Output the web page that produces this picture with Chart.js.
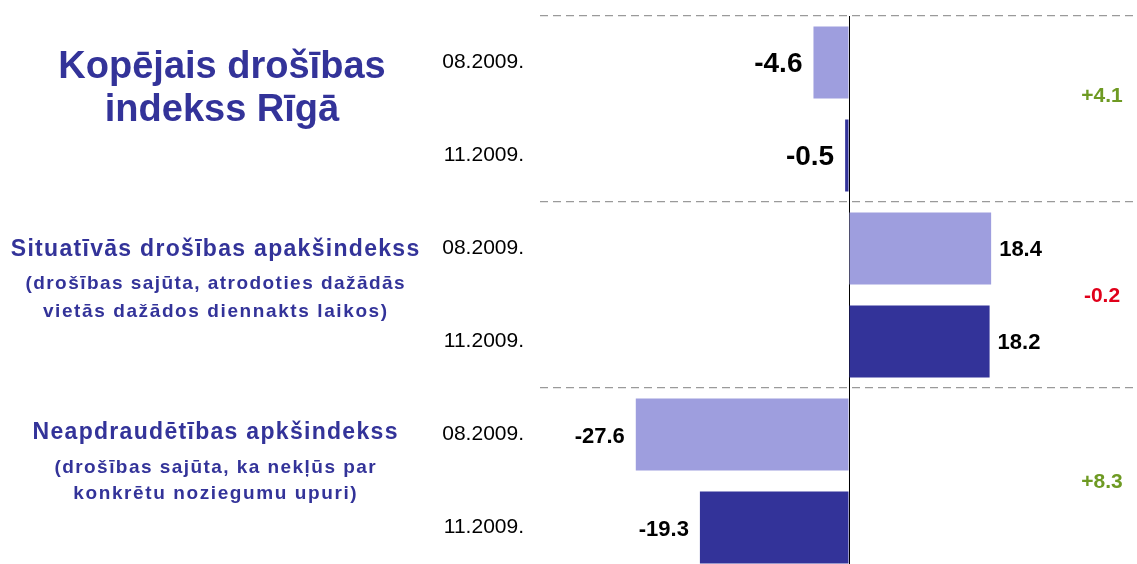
<!DOCTYPE html>
<html><head><meta charset="utf-8">
<script src="https://cdn.jsdelivr.net/npm/chart.js@4"></script>
<style>
html,body{margin:0;padding:0;overflow:hidden;background:#fff;width:1137px;height:564px}
canvas{display:block}
</style></head>
<body><canvas id="c" width="1158" height="574"></canvas>
<script>
const periods = ["08.2009.", "11.2009.", "08.2009.", "11.2009.", "08.2009.", "11.2009."];
const values = [-4.6, -0.5, 18.4, 18.2, -27.6, -19.3];
const changes = ["+4.1", "-0.2", "+8.3"];
const groupTitles = [
  ["Kopējais drošības", "indekss Rīgā"],
  ["Situatīvās drošības apakšindekss", "(drošības sajūta, atrodoties dažādās", "vietās dažādos diennakts laikos)"],
  ["Neapdraudētības apkšindekss", "(drošības sajūta, ka nekļūs par", "konkrētu noziegumu upuri)"]
];

const FONT = "'Liberation Sans', Arial, sans-serif";
const LIGHT = '#9E9EDE', DARK = '#333399', TITLE = '#333399';
const GREEN = '#6E9A23', RED = '#E0001A';

// text styling (per group: [fontSize, letterSpacing, yOffsetFromSectionCenter] per line)
const titleStyle = [
  {x: 222, lines: [[38, 0, -41], [38, 0, 2]]},
  {x: 215, lines: [[23, 1.3, -45], [19, 1.45, -11], [19, 1.6, 17]]},
  {x: 215, lines: [[23, 1.3, -48], [19, 1.45, -13], [19, 1.6, 13]]}
];
const changeOffsets = [-13, 1, 1];

const annot = {
  id: 'annot',
  afterDatasetsDraw(chart) {
    const {ctx, scales: {y}} = chart;
    const meta = chart.getDatasetMeta(0);
    ctx.save();
    ctx.textBaseline = 'middle';
    meta.data.forEach((bar, i) => {
      const v = values[i];
      const size = i < 2 ? 28 : 22;
      ctx.font = `bold ${size}px ${FONT}`;
      ctx.fillStyle = '#000';
      if (v < 0) { ctx.textAlign = 'right'; ctx.fillText(v.toFixed(1), bar.x - 11, bar.y + 2); }
      else { ctx.textAlign = 'left'; ctx.fillText(v.toFixed(1), bar.x + 8, bar.y + 1); }
    });
    groupTitles.forEach((lines, g) => {
      const mid = (y.getPixelForValue(2 * g) + y.getPixelForValue(2 * g + 1)) / 2;
      const ch = changes[g];
      ctx.font = `bold 21px ${FONT}`;
      ctx.textAlign = 'center';
      ctx.letterSpacing = '0px';
      ctx.fillStyle = ch.startsWith('-') ? RED : GREEN;
      ctx.fillText(ch, 1102, mid + changeOffsets[g]);
      const st = titleStyle[g];
      lines.forEach((txt, k) => {
        const [size, sp, off] = st.lines[k];
        ctx.font = `bold ${size}px ${FONT}`;
        ctx.letterSpacing = sp + 'px';
        ctx.fillStyle = TITLE;
        ctx.fillText(txt, st.x + sp / 2, mid + off);
      });
    });
    ctx.restore();
  }
};

new Chart(document.getElementById('c'), {
  type: 'bar',
  data: {
    labels: periods,
    datasets: [{
      data: values,
      backgroundColor: c => c.dataIndex % 2 === 0 ? LIGHT : DARK,
      borderWidth: 0,
      barPercentage: 0.774,
      categoryPercentage: 1
    }]
  },
  options: {
    indexAxis: 'y',
    responsive: false,
    animation: false,
    devicePixelRatio: 1,
    layout: {padding: {top: 16, left: 0, right: 0, bottom: 0}},
    plugins: {legend: {display: false}, tooltip: {enabled: false}},
    scales: {
      x: {
        type: 'linear', min: -40, max: 40,
        ticks: {display: false, stepSize: 10},
        grid: {color: c => (c.tick && c.tick.value === 0) ? '#000' : 'rgba(0,0,0,0)', lineWidth: 1, drawTicks: false},
        border: {display: false}
      },
      y: {
        ticks: {font: {family: FONT, size: 21}, color: '#000', padding: 16},
        grid: {offset: true, color: c => c.index % 2 === 0 ? '#9a9a9a' : 'rgba(0,0,0,0)', lineWidth: 1.3, drawTicks: false},
        border: {display: false, dash: [8, 5]},
        afterFit: s => { s.width = 540; s.paddingTop = 0; s.paddingBottom = 0; }
      }
    }
  },
  plugins: [annot]
});
</script>
</body></html>
